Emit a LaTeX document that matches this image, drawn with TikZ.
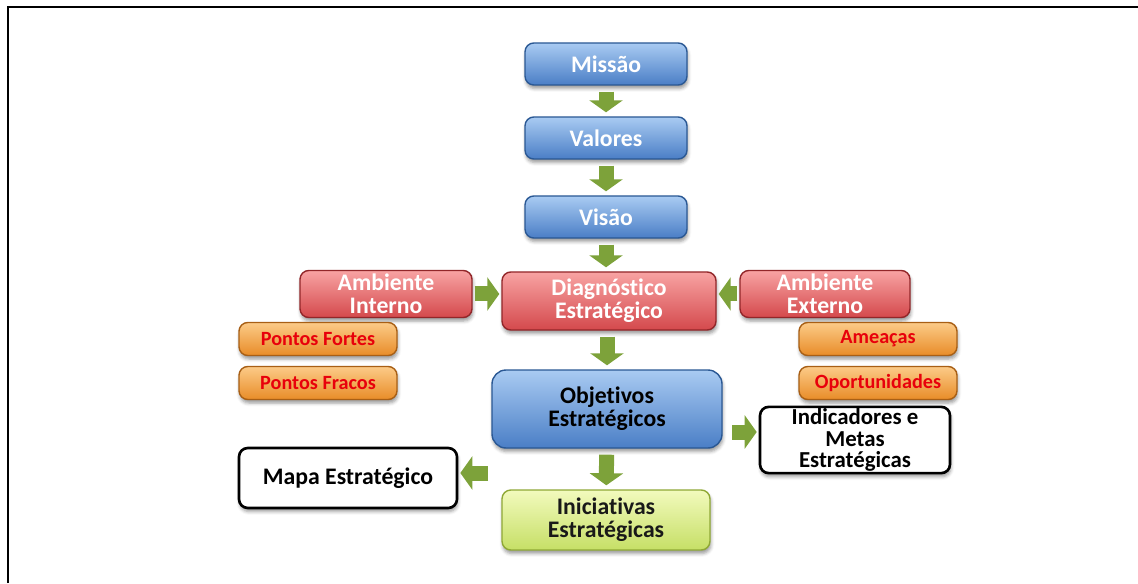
\documentclass[tikz,border=0pt]{standalone}
\usepackage{fontspec}
\setmainfont[Ligatures=CommonOff]{Carlito}
\usepackage{tikz}
\usetikzlibrary{arrows.meta, positioning, calc, shadows.blur}
\definecolor{bxblueL}{HTML}{A9CBF2}
\definecolor{bxblueD}{HTML}{4A7EC6}
\definecolor{bxblueE}{HTML}{2A5894}
\definecolor{bxredL}{HTML}{F8A3A3}
\definecolor{bxredD}{HTML}{D4494C}
\definecolor{bxredE}{HTML}{922629}
\definecolor{bxorgL}{HTML}{FCCB88}
\definecolor{bxorgD}{HTML}{E88C28}
\definecolor{bxorgE}{HTML}{A85F15}
\definecolor{bxgrnL}{HTML}{F2FABD}
\definecolor{bxgrnD}{HTML}{C6DF66}
\definecolor{bxgrnE}{HTML}{8FA835}
\definecolor{arrgreen}{HTML}{7DA23A}
\definecolor{ptred}{HTML}{E8000B}

\begin{document}
\begin{tikzpicture}[
  box/.style={
    rectangle,
    rounded corners=5pt,
    line width=0.8pt,
    align=center,
    inner sep=1pt,
    font=\fontsize{13.5}{13}\selectfont\bfseries,
    blur shadow={shadow xshift=0.5pt, shadow yshift=-2pt, shadow blur steps=4}
  },
  bluebox/.style={
    box,
    draw=bxblueE,
    top color=bxblueL,
    bottom color=bxblueD,
    text=white
  },
  redbox/.style={
    box,
    draw=bxredE,
    top color=bxredL,
    bottom color=bxredD,
    text=white
  },
  orgbox/.style={
    box,
    draw=bxorgE,
    top color=bxorgL,
    bottom color=bxorgD,
    text=ptred,
    minimum width=3.16cm,
    minimum height=0.66cm,
    font=\fontsize{11.5}{11.5}\selectfont\bfseries
  },
  grnbox/.style={
    box,
    draw=bxgrnE,
    top color=bxgrnL,
    bottom color=bxgrnD,
    text=black!90
  },
  whitebox/.style={
    box,
    draw=black,
    line width=1.5pt,
    fill=white,
    text=black
  },
  garrow/.style={
    -{Triangle[width=0.66cm, length=0.24cm]},
    line width=0.30cm,
    arrgreen,
    shorten <=0.12cm,
    shorten >=0.08cm
  },
  sidearrow/.style={
    garrow,
    shorten <=0.04cm,
    shorten >=0.04cm
  }
]
  \useasboundingbox (0,0) rectangle (22.76,11.66);
  % Frame
  \draw[line width=1.2pt] (0.16,0) -- (0.16,11.52) -- (22.76,11.52);

  % Top chain
  \node[bluebox, minimum width=3.24cm, minimum height=0.84cm] (missao) at (12.12,10.38) {Missão};
  \node[bluebox, minimum width=3.24cm, minimum height=0.84cm] (valores) at (12.12,8.90) {Valores};
  \node[bluebox, minimum width=3.24cm, minimum height=0.84cm] (visao) at (12.12,7.32) {Visão};

  % Diagnosis
  \node[redbox, minimum width=4.28cm, minimum height=1.16cm] (diag) at (12.18,5.64) {Diagnóstico\\Estratégico};
  \node[redbox, minimum width=3.44cm, minimum height=0.94cm] (ambint) at (7.72,5.78) {Ambiente\\Interno};
  \node[redbox, minimum width=3.40cm, minimum height=0.94cm] (ambext) at (16.50,5.78) {Ambiente\\Externo};

  % SWOT
  \node[orgbox] (fortes) at (6.36,4.88) {Pontos Fortes};
  \node[orgbox] (fracos) at (6.36,4.00) {Pontos Fracos};
  \node[orgbox] (ameacas) at (17.56,4.88) {Ameaças};
  \node[orgbox] (oport) at (17.56,4.00) {Oportunidades};

  % Objectives and outcomes
  \node[bluebox, text=black, rounded corners=8pt, minimum width=4.6cm, minimum height=1.56cm] (objetivos) at (12.14,3.48) {Objetivos\\Estratégicos};
  \node[whitebox, minimum width=3.8cm, minimum height=1.2cm, font=\fontsize{13}{12.2}\selectfont\bfseries] (indic) at (17.10,2.86) {Indicadores e\\Metas\\Estratégicas};
  \node[whitebox, minimum width=4.36cm, minimum height=1.2cm] (mapa) at (6.96,2.10) {Mapa Estratégico};
  \node[grnbox, minimum width=4.16cm, minimum height=1.2cm] (inic) at (12.12,1.26) {Iniciativas\\Estratégicas};

  \coordinate (mapsrc) at (9.80,2.20);
  \coordinate (indsrc) at (14.60,3.02);

  % Flow
  \draw[garrow] (missao) -- (valores);
  \draw[garrow] (valores) -- (visao);
  \draw[garrow] (visao) -- (visao |- diag.north);
  \draw[garrow] (diag.south -| objetivos) -- (objetivos);
  \draw[garrow] (objetivos) -- (inic);
  \draw[sidearrow] (ambint) -- (ambint -| diag.west);
  \draw[sidearrow] (ambext) -- (ambext -| diag.east);
  \draw[sidearrow] (indsrc) -- (indsrc -| indic.west);
  \draw[sidearrow] (mapsrc) -- (mapsrc -| mapa.east);
\end{tikzpicture}
\end{document}
